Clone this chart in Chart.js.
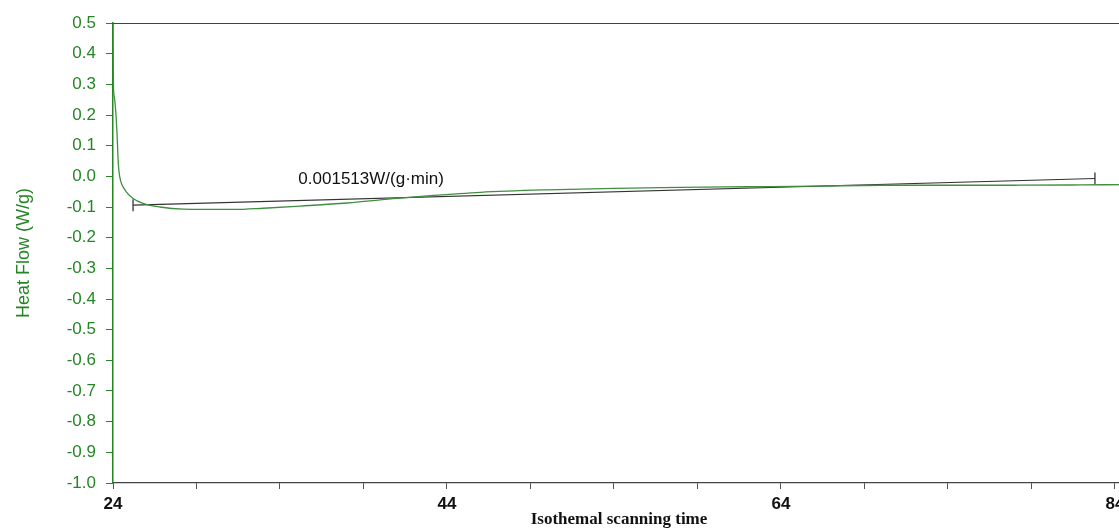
<!DOCTYPE html>
<html>
<head>
<meta charset="utf-8">
<script src="https://cdn.jsdelivr.net/npm/chart.js@4"></script>
<style>
  html, body { margin: 0; padding: 0; background: #fff; overflow: hidden; }
  #wrap { width: 1140px; height: 530px; position: relative; }
</style>
</head>
<body>
<div id="wrap"><canvas id="dsc"></canvas></div>
<script>
// tiempo (min) y flujo de calor (W/g) de la curva isoterma
const tiempo = [24.0, 24.03, 24.08, 24.12, 24.18, 24.24, 24.32, 24.4, 24.52, 24.82, 25.2, 25.8, 26.8, 28.2, 31.2, 33.0, 35.2, 38.0, 41.0, 43.0, 46.0, 50.0, 54.0, 58.0, 62.0, 66.0, 70.0, 74.0, 78.0, 82.0, 84.6];
const flujo = [0.5, 0.29, 0.26, 0.24, 0.2, 0.14, 0.04, 0.0, -0.025, -0.052, -0.072, -0.088, -0.1, -0.107, -0.108, -0.104, -0.097, -0.087, -0.072, -0.063, -0.052, -0.044, -0.039, -0.036, -0.034, -0.032, -0.029, -0.029, -0.029, -0.028, -0.027];

// recta de ajuste: inicio, fin y pendiente
const pendiente = 0.001513;
const ajusteT = [25.2, 82.8];
const ajusteInicio = -0.094;
const ajusteY = [ajusteInicio, ajusteInicio + pendiente * (ajusteT[1] - ajusteT[0])];

// marcas de los ejes
const ticksX = [24, 29, 34, 39, 44, 49, 54, 59, 64, 69, 74, 79, 84];
const etiquetasX = [24, 44, 64, 84];
const ticksY = [-1.0, -0.9, -0.8, -0.7, -0.6, -0.5, -0.4, -0.3, -0.2, -0.1, 0.0, 0.1, 0.2, 0.3, 0.4, 0.5];

const verde = '#268626';

// borde superior y texto de la pendiente
const extras = {
  id: 'extras',
  afterDatasetsDraw(chart) {
    const { ctx, chartArea, scales } = chart;
    ctx.save();
    ctx.strokeStyle = '#444';
    ctx.lineWidth = 1.2;
    ctx.beginPath();
    ctx.moveTo(chartArea.left, chartArea.top + 0.5);
    ctx.lineTo(chartArea.right, chartArea.top + 0.5);
    ctx.stroke();

    ctx.fillStyle = '#111';
    ctx.font = '17px "Liberation Sans", Arial, sans-serif';
    ctx.textBaseline = 'middle';
    ctx.textAlign = 'left';
    ctx.fillText(pendiente.toFixed(6) + 'W/(g·min)', scales.x.getPixelForValue(35.1), scales.y.getPixelForValue(-0.01));
    ctx.restore();
  }
};

new Chart(document.getElementById('dsc'), {
  type: 'line',
  data: {
    datasets: [
      {
        label: 'Heat Flow',
        data: tiempo.map((t, i) => ({ x: t, y: flujo[i] })),
        borderColor: '#3f8f3f',
        borderWidth: 1.3,
        pointRadius: 0,
        cubicInterpolationMode: 'monotone'
      },
      {
        label: 'Ajuste',
        data: ajusteT.map((t, i) => ({ x: t, y: ajusteY[i] })),
        borderColor: '#333',
        borderWidth: 1.1,
        pointStyle: 'line',
        rotation: 90,
        pointRadius: 6,
        pointBorderColor: '#333',
        pointBorderWidth: 1.3
      }
    ]
  },
  options: {
    responsive: true,
    maintainAspectRatio: false,
    animation: false,
    layout: { padding: { left: 13, right: 15, top: 23, bottom: 0 } },
    plugins: { legend: { display: false }, tooltip: { enabled: false } },
    scales: {
      x: {
        type: 'linear',
        min: 24,
        max: 84.6,
        afterBuildTicks: s => { s.ticks = ticksX.map(v => ({ value: v })); },
        afterFit: s => { s.height = 47; },
        ticks: {
          autoSkip: false,
          maxRotation: 0,
          padding: 5,
          color: '#111',
          font: { family: '"Liberation Sans", Arial, sans-serif', size: 17, weight: 'bold' },
          callback: v => etiquetasX.includes(v) ? String(v) : ''
        },
        grid: { drawOnChartArea: false, tickLength: 6, color: '#555' },
        border: { color: '#444', width: 1.2 },
        title: {
          display: true,
          text: 'Isothemal scanning time',
          color: '#111',
          font: { family: '"Liberation Serif", "Times New Roman", serif', size: 17, weight: 'bold' },
          padding: { top: 0, bottom: 0 }
        }
      },
      y: {
        min: -1,
        max: 0.5,
        afterBuildTicks: s => { s.ticks = ticksY.map(v => ({ value: v })); },
        afterFit: s => { s.width = 100; },
        ticks: {
          color: verde,
          padding: 10,
          font: { family: '"Liberation Sans", Arial, sans-serif', size: 17 },
          callback: v => v.toFixed(1)
        },
        grid: { drawOnChartArea: false, tickLength: 7, color: verde },
        border: { color: verde, width: 1.5 },
        title: {
          display: true,
          text: 'Heat Flow (W/g)',
          color: verde,
          font: { family: '"Liberation Sans", Arial, sans-serif', size: 18 },
          padding: { top: 0, bottom: 29 }
        }
      }
    }
  },
  plugins: [extras]
});
</script>
</body>
</html>
